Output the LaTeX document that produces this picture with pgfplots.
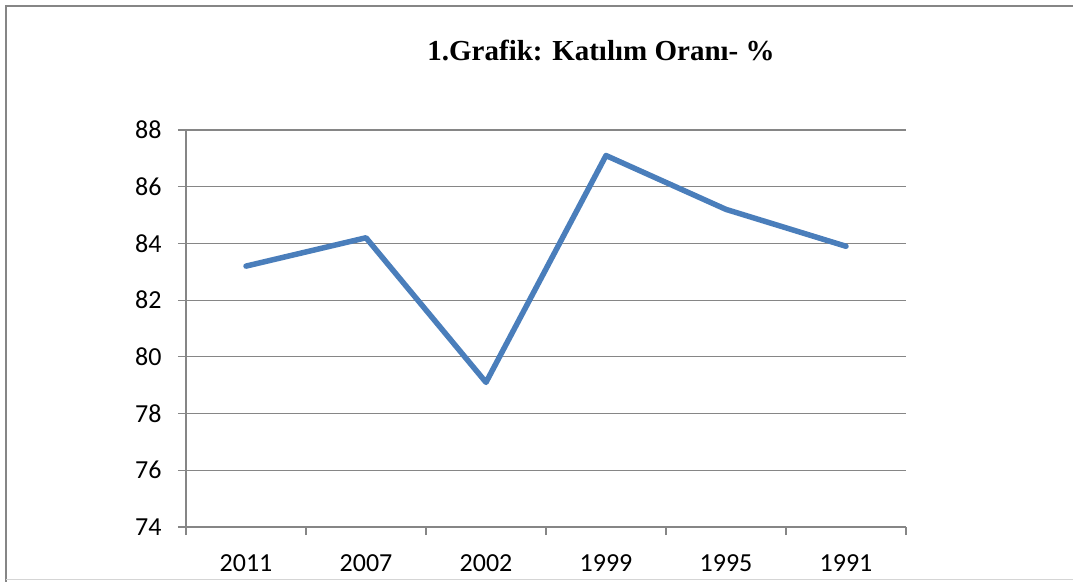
\documentclass[border=0pt]{standalone}
\usepackage{pgfplots}
\pgfplotsset{compat=1.18}
\usepackage{fontspec}
\setmainfont{Carlito}
\newfontfamily\titlefont{Liberation Serif}
\definecolor{gridc}{RGB}{134,134,134}
\definecolor{serie}{RGB}{74,126,187}
\begin{document}
\begin{tikzpicture}[x=1pt,y=1pt]
\path[use as bounding box] (0,0) rectangle (1073,581);
\draw[gridc, line width=1.2pt] (1090,575) -- (6,575) -- (6,-10);
\draw[gridc!35, line width=1pt] (6,2) -- (1090,2);
\begin{axis}[
  at={(186pt,54pt)}, anchor=south west,
  scale only axis, width=720pt, height=397pt,
  xmin=-0.5, xmax=5.5, ymin=74, ymax=88,
  axis x line*=bottom, axis y line*=left,
  axis line style={-, gridc, line width=1.2pt},
  ytick={74,76,...,88},
  ymajorgrids, grid style={gridc, line width=1.2pt},
  xtick={-0.5,0.5,1.5,2.5,3.5,4.5,5.5},
  xticklabels={2011,2007,2002,1999,1995,1991,{}},
  xticklabel style={xshift=60pt, yshift=-16pt},
  yticklabel style={xshift=-13pt},
  tick align=outside, major tick length=8pt,
  tick style={gridc, line width=1.2pt},
  ticklabel style={font=\fontsize{26}{30}\selectfont, text=black},
  /pgf/number format/assume math mode=true,
]
\addplot[serie, line width=5.5pt, line join=round, line cap=round] coordinates {(0,83.2)(1,84.2)(2,79.1)(3,87.1)(4,85.2)(5,83.9)};
\end{axis}
\node[font=\titlefont\bfseries\fontsize{29}{32}\selectfont, anchor=base] at (601,520) {1.Grafik: Katılım Oranı- \%};
\end{tikzpicture}
\end{document}
